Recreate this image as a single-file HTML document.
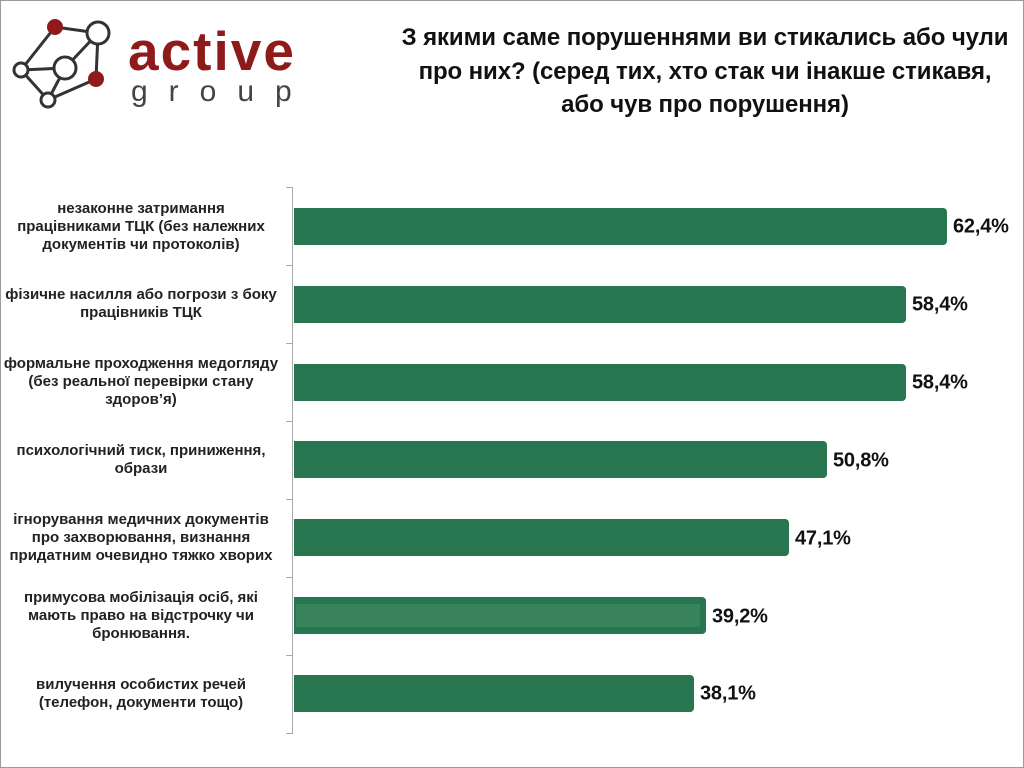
<!DOCTYPE html>
<html><head><meta charset="utf-8"><style>
body{margin:0;width:1024px;height:768px;background:#fff;position:relative;overflow:hidden;font-family:"Liberation Sans","DejaVu Sans",sans-serif;}
.frame{position:absolute;left:0;top:0;width:1022px;height:766px;border:1px solid #9a9a9a;}
.title{position:absolute;left:370px;width:670px;top:21px;text-align:center;font-weight:bold;font-size:24px;line-height:33.5px;color:#111;letter-spacing:-0.1px}
.lab{position:absolute;right:733px;width:300px;text-align:center;font-weight:bold;font-size:15px;line-height:18px;color:#222;transform:translateY(-50%)}
.bar{position:absolute;left:294px;height:37px;background:#287650;border-radius:0 4px 4px 0}
.val{position:absolute;font-weight:bold;font-size:20px;color:#111;transform:translateY(-50%);letter-spacing:-0.2px}
.axis{position:absolute;left:292px;top:187px;width:1px;height:547px;background:#aaa}
.tick{position:absolute;left:286px;width:7px;height:1px;background:#aaa}
</style></head><body>
<div class="frame"></div>
<svg style="position:absolute;left:0;top:0" width="320" height="120">
<g stroke="#333" stroke-width="3" fill="#fff">
<line x1="55" y1="27" x2="98" y2="33"/><line x1="55" y1="27" x2="21" y2="70"/><line x1="98" y1="33" x2="65" y2="68"/><line x1="98" y1="33" x2="96" y2="79"/><line x1="21" y1="70" x2="65" y2="68"/><line x1="21" y1="70" x2="48" y2="100"/><line x1="65" y1="68" x2="48" y2="100"/><line x1="96" y1="79" x2="48" y2="100"/>
<circle cx="98" cy="33" r="11"/><circle cx="65" cy="68" r="11"/><circle cx="21" cy="70" r="7"/><circle cx="48" cy="100" r="7"/>
</g>
<circle cx="55" cy="27" r="8" fill="#8f1a1a"/><circle cx="96" cy="79" r="8" fill="#8f1a1a"/>
<text x="128" y="70" font-family="Liberation Sans,sans-serif" font-weight="bold" font-size="55" fill="#8f1a1a" letter-spacing="2">active</text>
<text x="131" y="101" font-family="Liberation Sans,sans-serif" font-size="30" fill="#444" letter-spacing="21">group</text>
</svg>
<div class="title">З якими саме порушеннями ви стикались або чули<br>про них? (серед тих, хто стак чи інакше стикавя,<br>або чув про порушення)</div>
<div class="axis"></div>
<div class="tick" style="top:187px"></div><div class="tick" style="top:265px"></div><div class="tick" style="top:343px"></div><div class="tick" style="top:421px"></div><div class="tick" style="top:499px"></div><div class="tick" style="top:577px"></div><div class="tick" style="top:655px"></div><div class="tick" style="top:733px"></div>

<div class="bar" style="top:208px;width:653px"></div><div class="val" style="left:953px;top:227px">62,4%</div>
<div class="bar" style="top:286px;width:612px"></div><div class="val" style="left:912px;top:305px">58,4%</div>
<div class="bar" style="top:364px;width:612px"></div><div class="val" style="left:912px;top:383px">58,4%</div>
<div class="bar" style="top:441px;width:533px"></div><div class="val" style="left:833px;top:461px">50,8%</div>
<div class="bar" style="top:519px;width:495px"></div><div class="val" style="left:795px;top:539px">47,1%</div>
<div class="bar" style="top:597px;width:412px"><div style="position:absolute;left:2px;right:6px;top:7px;bottom:7px;background:#38825c"></div></div><div class="val" style="left:712px;top:617px">39,2%</div>
<div class="bar" style="top:675px;width:400px"></div><div class="val" style="left:700px;top:694px">38,1%</div>

<div class="lab" style="top:227px">незаконне затримання<br>працівниками ТЦК (без належних<br>документів чи протоколів)</div>
<div class="lab" style="top:304px">фізичне насилля або погрози з боку<br>працівників ТЦК</div>
<div class="lab" style="top:382px">формальне проходження медогляду<br>(без реальної перевірки стану<br>здоров’я)</div>
<div class="lab" style="top:460px">психологічний тиск, приниження,<br>образи</div>
<div class="lab" style="top:538px">ігнорування медичних документів<br>про захворювання, визнання<br>придатним очевидно тяжко хворих</div>
<div class="lab" style="top:616px">примусова мобілізація осіб, які<br>мають право на відстрочку чи<br>бронювання.</div>
<div class="lab" style="top:694px">вилучення особистих речей<br>(телефон, документи тощо)</div>
</body></html>
